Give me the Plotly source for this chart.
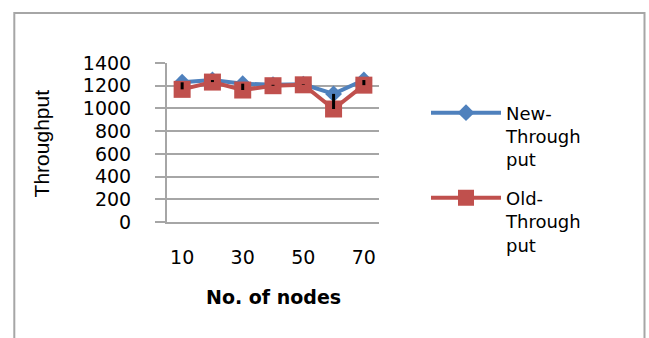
import plotly.graph_objects as go

# Throughput per network size
nodes = [10, 20, 30, 40, 50, 60, 70]
new_throughput = [1230, 1250, 1218, 1208, 1213, 1128, 1250]
old_throughput = [1168, 1232, 1162, 1200, 1208, 995, 1205]
x_tick_vals = [10, 30, 50, 70]
y_tick_vals = [0, 200, 400, 600, 800, 1000, 1200, 1400]

BLUE = "#4f81bd"
RED = "#c0504d"
GREY = "#a6a6a6"
FONT = "DejaVu Sans"

# plot area in pixels
W_FIG, H_FIG = 649, 338
L, R, T, B = 167, 379, 62.5, 221.7


def px_x(x):
    return (x - L) / (R - L)


def px_y(y):
    return (B - y) / (B - T)


fig = go.Figure()

fig.add_trace(go.Scatter(
    x=nodes, y=new_throughput, mode="lines+markers",
    name="New-<br>Through<br>put", legendgroup="new",
    line=dict(color=BLUE, width=4),
    marker=dict(symbol="diamond", size=13, color=BLUE),
))
fig.add_trace(go.Scatter(
    x=nodes, y=old_throughput, mode="lines+markers",
    name="Old-<br>Through<br>put", legendgroup="old",
    line=dict(color=RED, width=4),
    marker=dict(symbol="square", size=17, color=RED),
))

# high-low lines joining the two series at each node count
hl_x, hl_y = [], []
for n, a, b in zip(nodes, new_throughput, old_throughput):
    hl_x += [n, n, None]
    hl_y += [a, b, None]
fig.add_trace(go.Scatter(
    x=hl_x, y=hl_y, mode="lines", showlegend=False, hoverinfo="skip",
    line=dict(color="black", width=3),
))

fig.update_layout(
    width=W_FIG, height=H_FIG,
    margin=dict(l=L, r=W_FIG - R, t=T, b=H_FIG - B, pad=0),
    paper_bgcolor="white", plot_bgcolor="white",
    font=dict(family=FONT, color="black", size=19),
    showlegend=True,
    legend=dict(
        x=px_x(426), y=px_y(94), xanchor="left", yanchor="top",
        font=dict(family=FONT, size=18, color="black"),
        valign="top", tracegroupgap=12, itemwidth=70, maxheight=320,
        bgcolor="rgba(0,0,0,0)",
    ),
    xaxis=dict(
        range=[5, 75], tickvals=x_tick_vals, showgrid=False, zeroline=False,
        showline=True, linecolor=GREY, linewidth=2, ticks="",
        ticklabelstandoff=17, tickfont=dict(size=19),
    ),
    yaxis=dict(
        range=[0, 1400], tickvals=y_tick_vals, showgrid=True,
        gridcolor=GREY, gridwidth=2, zeroline=False,
        showline=True, linecolor=GREY, linewidth=2,
        ticks="outside", ticklen=10, tickcolor=GREY, tickwidth=2,
        ticklabelstandoff=20, tickfont=dict(size=19),
    ),
    shapes=[dict(
        type="rect", xref="paper", yref="paper",
        x0=px_x(14.3), x1=px_x(644.5), y0=px_y(350), y1=px_y(12.5),
        line=dict(color=GREY, width=2), layer="below",
    )],
    annotations=[
        dict(text="Throughput", xref="paper", yref="paper",
             x=px_x(41), y=px_y(143), xanchor="center", yanchor="middle",
             textangle=-90, showarrow=False,
             font=dict(family="Liberation Sans", size=21)),
        dict(text="<b>No. of nodes</b>", xref="paper", yref="paper",
             x=px_x(273), y=px_y(297), xanchor="center", yanchor="middle",
             showarrow=False, font=dict(family=FONT, size=19)),
    ],
)

fig.write_html("out.html")
